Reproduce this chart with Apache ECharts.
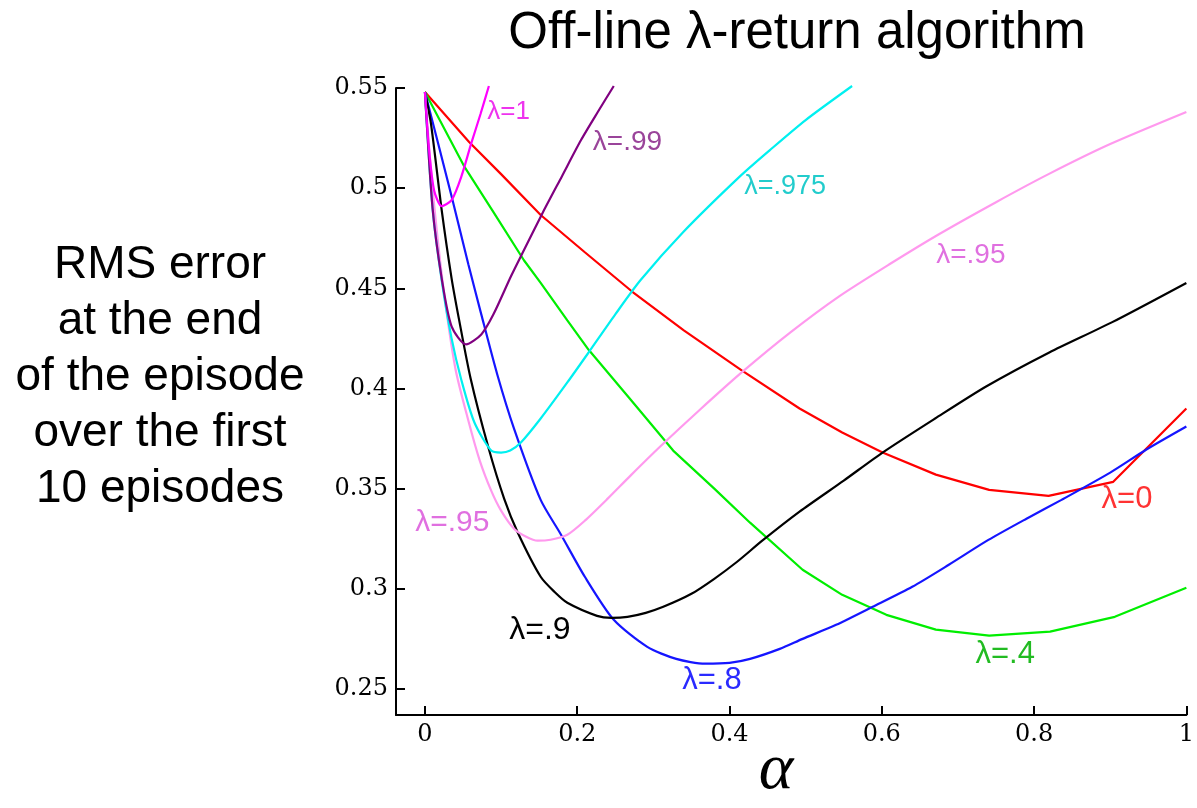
<!DOCTYPE html>
<html>
<head>
<meta charset="utf-8">
<script src="https://cdn.jsdelivr.net/npm/echarts@6/dist/echarts.min.js"></script>
<style>html,body{margin:0;padding:0;background:#fff}#c{width:1197px;height:808px}</style>
</head>
<body>
<div id="c"></div>
<script>
// ---- data (alpha, RMS error) ----
const alphaTicks = [0, 0.2, 0.4, 0.6, 0.8, 1];
const errorTicks = [0.25, 0.3, 0.35, 0.4, 0.45, 0.5, 0.55];

const lambda0 = [[0,0.548],[0.058,0.523],[0.1,0.507],[0.152,0.4866],[0.21,0.468],[0.272,0.4484],[0.34,0.429],[0.416,0.409],[0.492,0.390],[0.548,0.378],[0.601,0.368],[0.671,0.357],[0.741,0.3494],[0.819,0.3464],[0.904,0.3534],[1.0,0.390]];
const lambda04 = [[0,0.548],[0.052,0.5106],[0.09,0.488],[0.13,0.464],[0.152,0.4527],[0.187,0.434],[0.215,0.4193],[0.27,0.3945],[0.326,0.369],[0.38,0.35],[0.427,0.333],[0.496,0.3095],[0.548,0.297],[0.606,0.287],[0.671,0.2796],[0.741,0.2766],[0.821,0.2786],[0.906,0.286],[1.0,0.3005]];
const lambda08 = [[0,0.548],[0.035,0.496],[0.057,0.462],[0.074,0.437],[0.095,0.407],[0.117,0.380],[0.152,0.3444],[0.178,0.3275],[0.21,0.306],[0.248,0.2845],[0.292,0.271],[0.33,0.265],[0.368,0.2626],[0.4,0.263],[0.427,0.265],[0.466,0.270],[0.496,0.275],[0.54,0.282],[0.588,0.291],[0.64,0.301],[0.688,0.312],[0.74,0.3244],[0.79,0.335],[0.836,0.3444],[0.9,0.358],[0.947,0.3694],[1.0,0.381]];
const lambda09 = [[0,0.548],[0.008,0.532],[0.022,0.489],[0.035,0.455],[0.045,0.434],[0.06,0.405],[0.083,0.371],[0.104,0.345],[0.122,0.328],[0.152,0.306],[0.17,0.2985],[0.187,0.293],[0.226,0.2865],[0.245,0.2855],[0.266,0.286],[0.29,0.288],[0.313,0.291],[0.35,0.2975],[0.38,0.305],[0.41,0.3135],[0.443,0.324],[0.492,0.3385],[0.55,0.354],[0.601,0.368],[0.67,0.385],[0.737,0.401],[0.82,0.418],[0.902,0.433],[1.0,0.4527]];
const lambda095 = [[0,0.548],[0.01,0.5],[0.023,0.454],[0.04,0.41],[0.057,0.384],[0.072,0.364],[0.087,0.349],[0.1,0.339],[0.117,0.330],[0.133,0.326],[0.148,0.324],[0.165,0.3245],[0.187,0.327],[0.21,0.334],[0.24,0.345],[0.27,0.3565],[0.309,0.371],[0.36,0.389],[0.416,0.408],[0.48,0.428],[0.544,0.446],[0.61,0.462],[0.675,0.477],[0.75,0.493],[0.819,0.507],[0.9,0.522],[1.0,0.538]];
const lambda0975 = [[0,0.548],[0.01,0.49],[0.022,0.454],[0.035,0.425],[0.048,0.404],[0.065,0.383],[0.087,0.369],[0.1,0.368],[0.112,0.369],[0.126,0.373],[0.152,0.385],[0.187,0.403],[0.215,0.418],[0.25,0.437],[0.283,0.454],[0.339,0.478],[0.414,0.506],[0.453,0.519],[0.5,0.534],[0.561,0.551]];
const lambda099 = [[0,0.548],[0.01,0.49],[0.022,0.455],[0.035,0.431],[0.054,0.422],[0.074,0.427],[0.09,0.437],[0.113,0.456],[0.126,0.466],[0.155,0.488],[0.18,0.506],[0.205,0.524],[0.227,0.538],[0.248,0.551]];
const lambda1 = [[0,0.548],[0.005,0.521],[0.012,0.499],[0.022,0.491],[0.035,0.494],[0.048,0.506],[0.061,0.5226],[0.073,0.537],[0.084,0.551]];

const curveLabels = ['λ=1','λ=.99','λ=.975','λ=.95','λ=.95','λ=.9','λ=.8','λ=.4','λ=0'];
const curveLabelAt = [[0.11,0.538],[0.266,0.523],[0.473,0.501],[0.717,0.4667],[0.036,0.333],[0.151,0.2795],[0.377,0.254],[0.762,0.267],[0.922,0.3444]];

// ---- styles ----
const labelColors = ['#ee33ee','#9a449a','#22cccc','#e070e0','#e070e0','#000000','#2a2aff','#22bb22','#ff3333'];
const labelSizes = [26,28,27,28,30,32,31,31,31];

const chart = echarts.init(document.getElementById('c'));
function line(data, color, smooth) {
  return {type:'line', data:data, showSymbol:false, symbol:'none', clip:false,
    smooth:smooth,
    lineStyle:{color:color, width:2.2}, itemStyle:{color:color}, z:2, silent:true};
}
const labelData = curveLabels.map((t, i) => ({
  value: curveLabelAt[i], name: t,
  label: {color: labelColors[i], fontSize: labelSizes[i]}
}));

chart.setOption({
  animation:false,
  backgroundColor:'#fff',
  grid:{left:396, right:9, top:88, bottom:93},
  xAxis:{type:'value', min:-0.038, max:1,
    axisLine:{show:true, onZero:false, lineStyle:{color:'#000', width:2}},
    axisTick:{show:true, inside:true, length:9, lineStyle:{color:'#000', width:2}, customValues:alphaTicks},
    axisLabel:{customValues:alphaTicks, formatter:v=>String(v), color:'#000', fontFamily:'DejaVu Serif', fontSize:24, margin:8},
    splitLine:{show:false}},
  yAxis:{type:'value', min:0.237, max:0.55,
    axisLine:{show:true, onZero:false, lineStyle:{color:'#000', width:2}},
    axisTick:{show:true, inside:true, length:9, lineStyle:{color:'#000', width:2}, customValues:errorTicks},
    axisLabel:{customValues:errorTicks, formatter:v=>String(v), color:'#000', fontFamily:'DejaVu Serif', fontSize:24, margin:8},
    splitLine:{show:false}},
  series:[
    line(lambda0,'#ff0000', false),
    line(lambda04,'#00ee00', false),
    line(lambda08,'#1515ff', 0.25),
    line(lambda09,'#000000', 0.25),
    line(lambda095,'#ff99ee', 0.25),
    line(lambda0975,'#00f0f0', 0.25),
    line(lambda099,'#800080', 0.25),
    line(lambda1,'#ff00ff', 0.25),
    {type:'scatter', data:labelData, symbolSize:0, silent:true, z:5,
      itemStyle:{opacity:1},
      label:{show:true, opacity:1, position:'inside', formatter:p=>p.name, fontFamily:'Liberation Sans', align:'center', verticalAlign:'middle'}}
  ],
  graphic:[
    {type:'text', x:797, y:34, style:{text:'Off-line λ-return algorithm', font:'51px "Liberation Sans"', fill:'#000', align:'center', verticalAlign:'middle'}},
    {type:'text', x:160, y:377, style:{text:'RMS error\nat the end\nof the episode\nover the first\n10 episodes', font:'46px "Liberation Sans"', lineHeight:56, fill:'#000', align:'center', verticalAlign:'middle'}},
    {type:'text', x:776, y:771, style:{text:'α', font:'italic 66px "Liberation Serif"', fill:'#000', align:'center', verticalAlign:'middle'}}
  ]
});
</script>
</body>
</html>
